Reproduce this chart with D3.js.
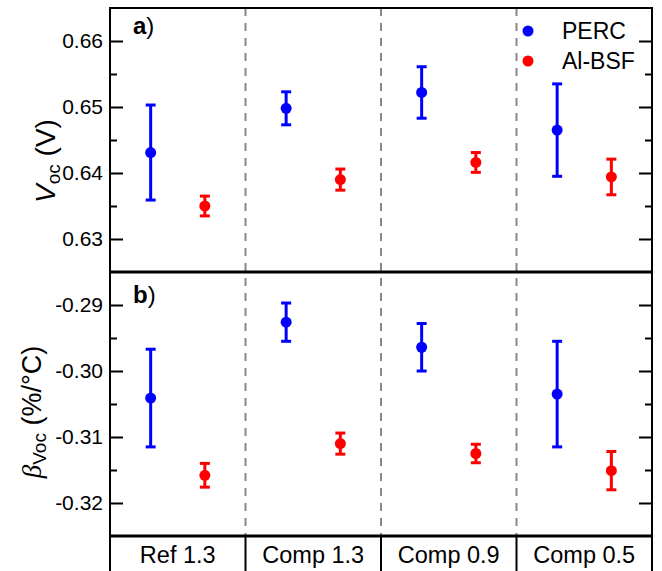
<!DOCTYPE html>
<html>
<head>
<meta charset="utf-8">
<script src="https://cdn.jsdelivr.net/npm/d3@7"></script>
<style>
  body { margin: 0; background: #fff; }
  text { font-family: "Liberation Sans", Arial, sans-serif; fill: #000; }
</style>
</head>
<body>
<div id="chart"></div>
<script>
// data
var categories = ["Ref 1.3", "Comp 1.3", "Comp 0.9", "Comp 0.5"];
var seriesNames = ["PERC", "Al-BSF"];
var seriesColors = ["#0000ff", "#ff0000"];

var vocPerc     = [0.6431, 0.6498, 0.6522, 0.6465];
var vocPercErr  = [0.0072, 0.0025, 0.0039, 0.0070];
var vocAl       = [0.6350, 0.6390, 0.6416, 0.6394];
var vocAlErr    = [0.0015, 0.0016, 0.0015, 0.0027];

var betaPerc    = [-0.3041, -0.2926, -0.2964, -0.3035];
var betaPercErr = [0.0074, 0.0029, 0.0036, 0.0080];
var betaAl      = [-0.3158, -0.3110, -0.3125, -0.3151];
var betaAlErr   = [0.0018, 0.0016, 0.0014, 0.0029];

var vocTicks  = [0.63, 0.64, 0.65, 0.66];
var betaTicks = [-0.32, -0.31, -0.30, -0.29];

// layout
var W = 662, H = 571;
var pLeft = 110, pRight = 652, pTop = 8, pMid = 272, pBottom = 536;

var svg = d3.select("#chart").append("svg")
    .attr("width", W).attr("height", H);

var x = d3.scaleBand().domain(categories).range([pLeft, pRight]);
var offsets = [0.3, 0.7];

var yTop = d3.scaleLinear().domain([0.625, 0.665]).range([pMid, pTop]);
var yBot = d3.scaleLinear().domain([-0.325, -0.285]).range([pBottom, pMid]);

var fmt = function(d){ return d.toFixed(2); };

// dashed category separators
svg.append("g").selectAll("line")
  .data(categories.slice(1))
  .enter().append("line")
    .attr("x1", function(d){ return x(d); })
    .attr("x2", function(d){ return x(d); })
    .attr("y1", pTop).attr("y2", pBottom)
    .attr("stroke", "#888").attr("stroke-width", 2)
    .attr("stroke-dasharray", "8,7");

function drawAxes(y, ticks) {
  var minor = ticks.map(function(t){ return t + 0.005; })
    .concat([ticks[0] - 0.005])
    .filter(function(t){ return t > y.domain()[0] && t < y.domain()[1]; });

  var gl = svg.append("g").attr("transform", "translate(" + pLeft + ",0)")
    .call(d3.axisLeft(y).tickValues(ticks).tickSize(-13).tickPadding(7).tickFormat(fmt));
  gl.select(".domain").remove();
  gl.selectAll("line").attr("stroke-width", 2);
  gl.selectAll("text").style("font-size", "21px");

  var glm = svg.append("g").attr("transform", "translate(" + pLeft + ",0)")
    .call(d3.axisLeft(y).tickValues(minor).tickSize(-7).tickFormat(""));
  glm.select(".domain").remove();
  glm.selectAll("line").attr("stroke-width", 2);

  var gr = svg.append("g").attr("transform", "translate(" + pRight + ",0)")
    .call(d3.axisRight(y).tickValues(ticks).tickSize(-13).tickFormat(""));
  gr.select(".domain").remove();
  gr.selectAll("line").attr("stroke-width", 2);

  var grm = svg.append("g").attr("transform", "translate(" + pRight + ",0)")
    .call(d3.axisRight(y).tickValues(minor).tickSize(-7).tickFormat(""));
  grm.select(".domain").remove();
  grm.selectAll("line").attr("stroke-width", 2);
}
drawAxes(yTop, vocTicks);
drawAxes(yBot, betaTicks);

// error bars + points
function drawSeries(y, vals, errs, si) {
  var g = svg.append("g");
  var col = seriesColors[si];
  var cx = function(i){ return x(categories[i]) + offsets[si] * x.bandwidth(); };
  var idx = d3.range(vals.length);
  g.selectAll(".bar").data(idx).enter().append("line")
    .attr("x1", cx).attr("x2", cx)
    .attr("y1", function(i){ return y(vals[i] + errs[i]); })
    .attr("y2", function(i){ return y(vals[i] - errs[i]); })
    .attr("stroke", col).attr("stroke-width", 3);
  [1, -1].forEach(function(s){
    g.selectAll(".cap" + s).data(idx).enter().append("line")
      .attr("x1", function(i){ return cx(i) - 5; })
      .attr("x2", function(i){ return cx(i) + 5; })
      .attr("y1", function(i){ return y(vals[i] + s * errs[i]); })
      .attr("y2", function(i){ return y(vals[i] + s * errs[i]); })
      .attr("stroke", col).attr("stroke-width", 3);
  });
  g.selectAll("circle").data(idx).enter().append("circle")
    .attr("cx", cx)
    .attr("cy", function(i){ return y(vals[i]); })
    .attr("r", 5.5)
    .attr("fill", col);
}
drawSeries(yTop, vocPerc, vocPercErr, 0);
drawSeries(yTop, vocAl, vocAlErr, 1);
drawSeries(yBot, betaPerc, betaPercErr, 0);
drawSeries(yBot, betaAl, betaAlErr, 1);

// frame
svg.append("line").attr("x1", pLeft).attr("x2", pRight).attr("y1", pTop).attr("y2", pTop)
  .attr("stroke", "#000").attr("stroke-width", 2);
svg.append("line").attr("x1", pLeft).attr("x2", pLeft).attr("y1", pTop - 1).attr("y2", H)
  .attr("stroke", "#000").attr("stroke-width", 2);
svg.append("line").attr("x1", pRight).attr("x2", pRight).attr("y1", pTop - 1).attr("y2", H)
  .attr("stroke", "#000").attr("stroke-width", 2);
svg.append("line").attr("x1", pLeft).attr("x2", pRight).attr("y1", pMid).attr("y2", pMid)
  .attr("stroke", "#000").attr("stroke-width", 3);
svg.append("line").attr("x1", pLeft).attr("x2", pRight).attr("y1", pBottom).attr("y2", pBottom)
  .attr("stroke", "#000").attr("stroke-width", 3);

// category label row
svg.append("g").selectAll("line")
  .data(categories.slice(1))
  .enter().append("line")
    .attr("x1", function(d){ return x(d); })
    .attr("x2", function(d){ return x(d); })
    .attr("y1", pBottom).attr("y2", H)
    .attr("stroke", "#000").attr("stroke-width", 2);
svg.append("g").selectAll("text")
  .data(categories)
  .enter().append("text")
    .attr("x", function(d){ return x(d) + x.bandwidth() / 2; })
    .attr("y", 563)
    .attr("text-anchor", "middle")
    .style("font-size", "23.5px")
    .text(function(d){ return d; });

// legend
seriesNames.forEach(function(name, i){
  var ly = 31 + i * 30;
  svg.append("circle").attr("cx", 528).attr("cy", ly).attr("r", 5.5).attr("fill", seriesColors[i]);
  svg.append("text").attr("x", 562).attr("y", ly + 8)
    .style("font-size", "23px").text(name);
});

// panel letters
[["a", 34], ["b", 303]].forEach(function(p){
  var t = svg.append("text").attr("x", 133).attr("y", p[1]).style("font-size", "24px");
  t.append("tspan").style("font-weight", "bold").text(p[0]);
  t.append("tspan").text(")");
});

// y labels
var yl1 = svg.append("text")
  .attr("transform", "translate(55,161) rotate(-90)")
  .attr("text-anchor", "middle")
  .style("font-size", "28px");
yl1.append("tspan").style("font-style", "italic").text("V");
yl1.append("tspan").attr("dy", 5).style("font-size", "19px").text("oc");
yl1.append("tspan").attr("dy", -5).text(" (V)");

var yl2 = svg.append("text")
  .attr("transform", "translate(41,412) rotate(-90)")
  .attr("text-anchor", "middle")
  .style("font-size", "27px");
yl2.append("tspan").style("font-style", "italic").style("font-family", "'Liberation Serif', serif").text("β");
yl2.append("tspan").attr("dy", 5).style("font-size", "19px").text("Voc");
yl2.append("tspan").attr("dy", -5).text(" (%/°C)");
</script>
</body>
</html>
